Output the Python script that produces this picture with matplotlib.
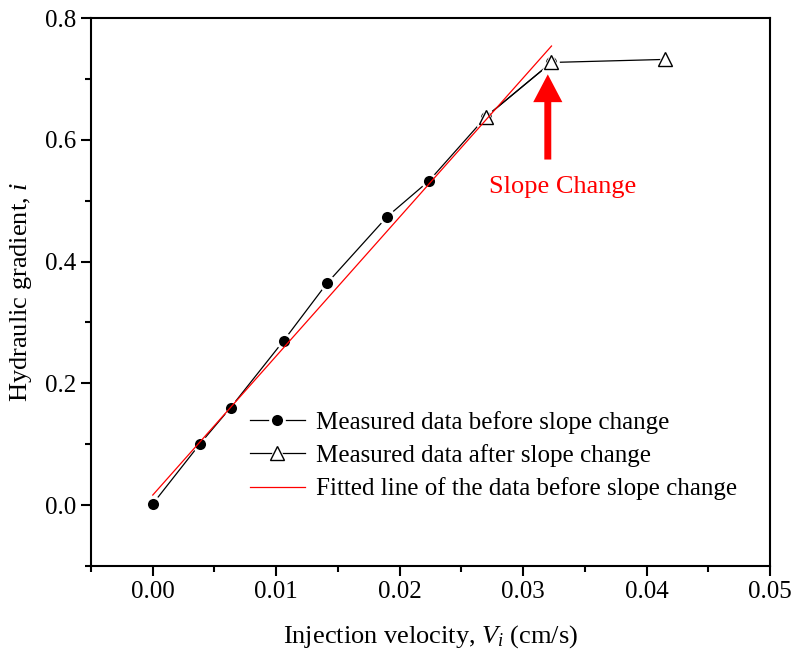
import matplotlib.pyplot as plt
from matplotlib.legend_handler import HandlerTuple

plt.rcParams['font.family'] = ['Liberation Serif', 'DejaVu Serif']
plt.rcParams['mathtext.fontset'] = 'custom'
plt.rcParams['mathtext.it'] = 'Liberation Serif:italic'
plt.rcParams['mathtext.rm'] = 'Liberation Serif'

# measured data before slope change
v_before = [0.0, 0.0038, 0.0063, 0.0106, 0.0141, 0.0190, 0.0224, 0.0270, 0.0323]
i_before = [0.002, 0.100, 0.160, 0.270, 0.364, 0.474, 0.533, 0.638, 0.727]

# measured data after slope change
v_after = [0.0270, 0.0323, 0.0415]
i_after = [0.638, 0.727, 0.732]

# fitted line (end points)
v_fit = [0.0, 0.0323]
i_fit = [0.0165, 0.754]

fig = plt.figure(figsize=(7.93, 6.55), dpi=100)
ax = fig.add_axes([0.1148, 0.1359, 0.8562, 0.8366])

l_before, = ax.plot(v_before, i_before, color='black', lw=0.9, zorder=2)
d_before, = ax.plot(v_before, i_before, ls='none', marker='o', ms=10,
                    mfc='black', mec='white', mew=2.0, zorder=3)

l_after, = ax.plot(v_after, i_after, color='black', lw=0.9, zorder=2)
h_after, = ax.plot(v_after, i_after, ls='none', marker='^', ms=13,
                   mfc='white', mec='white', zorder=3)
t_after, = ax.plot(v_after, i_after, ls='none', marker='^', ms=10,
                   mfc='white', mec='black', mew=1.0, zorder=4)

fit, = ax.plot(v_fit, i_fit, color='red', lw=0.9, zorder=5)

ax.annotate('', xy=(0.0320, 0.712), xytext=(0.0320, 0.563),
            arrowprops=dict(arrowstyle='simple,head_width=2.1,head_length=2.0,tail_width=0.5',
                            color='red', lw=0))
ax.text(0.0332, 0.522, 'Slope Change', color='red', fontsize=19,
        ha='center', va='center')

ax.set_xlim(-0.005, 0.05)
ax.set_ylim(-0.1, 0.8)
ax.set_xticks([0.0, 0.01, 0.02, 0.03, 0.04, 0.05])
ax.set_xticks([-0.005, 0.005, 0.015, 0.025, 0.035, 0.045], minor=True)
ax.set_yticks([0.0, 0.2, 0.4, 0.6, 0.8])
ax.set_yticks([-0.1, 0.1, 0.3, 0.5, 0.7], minor=True)
ax.set_xticklabels(['0.00', '0.01', '0.02', '0.03', '0.04', '0.05'])
ax.set_yticklabels(['0.0', '0.2', '0.4', '0.6', '0.8'])
ax.tick_params(which='major', direction='out', length=7, width=1.5, labelsize=18)
ax.tick_params(which='minor', direction='out', length=4, width=1.5)
for s in ax.spines.values():
    s.set_linewidth(1.5)

ax.set_xlabel('Injection velocity, $V_i$ (cm/s)', fontsize=19, labelpad=15)
ax.set_ylabel('Hydraulic gradient, $i$', fontsize=19, labelpad=8)

ax.legend([(l_before, d_before), (l_after, h_after, t_after), fit],
          ['Measured data before slope change',
           'Measured data after slope change',
           'Fitted line of the data before slope change'],
          handler_map={tuple: HandlerTuple(ndivide=1)},
          loc='upper left', bbox_to_anchor=(0.2153, 0.3065), frameon=False,
          fontsize=18, handlelength=2.2, handletextpad=0.45, labelspacing=0.42,
          borderpad=0)

fig.savefig('out.png', dpi=100)
